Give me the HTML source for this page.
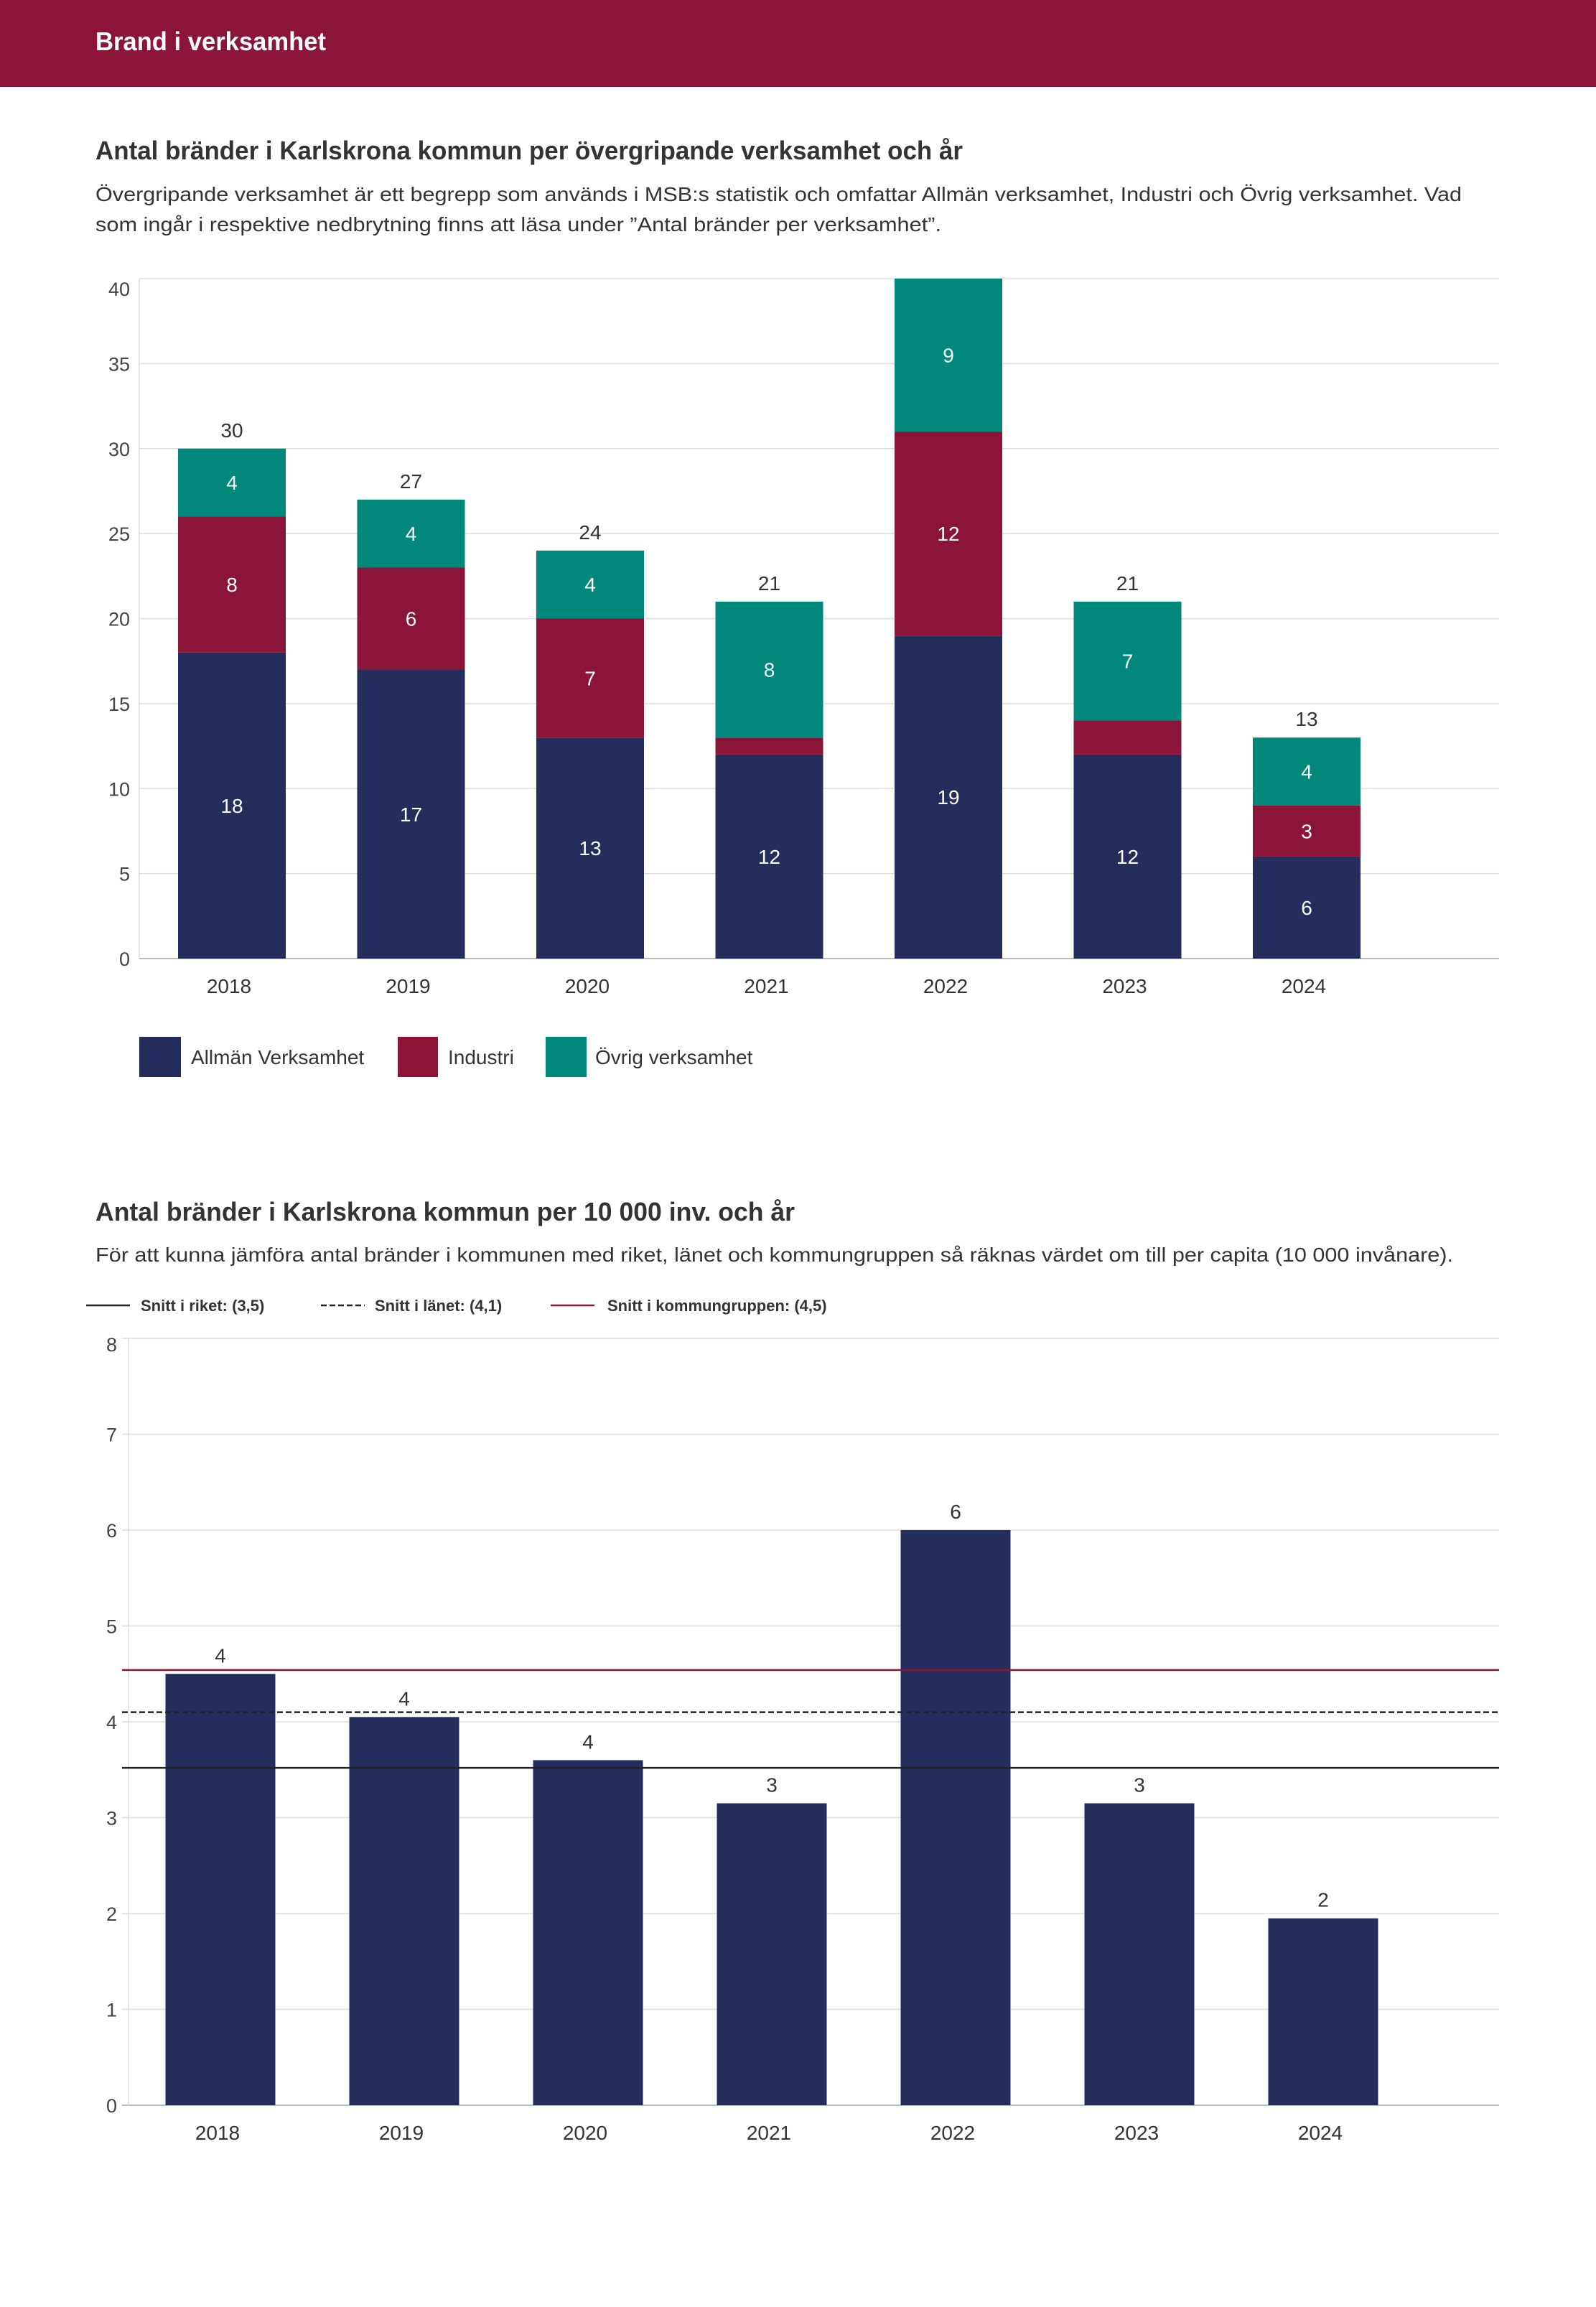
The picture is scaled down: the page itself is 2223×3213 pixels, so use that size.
<!DOCTYPE html>
<html><head><meta charset="utf-8"><style>
html,body{margin:0;padding:0;background:#fff}
svg{display:block}
text{font-family:"Liberation Sans",sans-serif}
</style></head><body>
<svg id="page" width="2223" height="3213" viewBox="0 0 2223 3213" xmlns="http://www.w3.org/2000/svg">
<rect x="0" y="0" width="2223" height="121" fill="#8b1538"/>
<text x="133" y="70" fill="#fff" font-size="36" font-weight="bold" textLength="321" lengthAdjust="spacingAndGlyphs">Brand i verksamhet</text>

<text x="133" y="222" fill="#333" font-size="36" font-weight="bold" textLength="1208" lengthAdjust="spacingAndGlyphs">Antal bränder i Karlskrona kommun per övergripande verksamhet och år</text>
<text x="133" y="280" fill="#333" font-size="28" textLength="1903" lengthAdjust="spacingAndGlyphs">Övergripande verksamhet är ett begrepp som används i MSB:s statistik och omfattar Allmän verksamhet, Industri och Övrig verksamhet. Vad</text>
<text x="133" y="322" fill="#333" font-size="28" textLength="1178" lengthAdjust="spacingAndGlyphs">som ingår i respektive nedbrytning finns att läsa under ”Antal bränder per verksamhet”.</text>
<g id="chart1"></g>

<g>
<rect x="194" y="1444" width="58" height="56" fill="#252d5c"/>
<text x="266" y="1482" font-size="28" fill="#333">Allmän Verksamhet</text>
<rect x="554" y="1444" width="56" height="56" fill="#8b1538"/>
<text x="624" y="1482" font-size="28" fill="#333">Industri</text>
<rect x="760" y="1444" width="57" height="56" fill="#00897b"/>
<text x="829" y="1482" font-size="28" fill="#333">Övrig verksamhet</text>
</g>

<text x="133" y="1700" fill="#333" font-size="36" font-weight="bold" textLength="974" lengthAdjust="spacingAndGlyphs">Antal bränder i Karlskrona kommun per 10 000 inv. och år</text>
<text x="133" y="1757" fill="#333" font-size="28" textLength="1891" lengthAdjust="spacingAndGlyphs">För att kunna jämföra antal bränder i kommunen med riket, länet och kommungruppen så räknas värdet om till per capita (10 000 invånare).</text>
<g>
<line x1="120" y1="1818" x2="181" y2="1818" stroke="#222" stroke-width="2.5"/>
<text x="196" y="1826" font-size="22" font-weight="bold" fill="#333">Snitt i riket: (3,5)</text>
<line x1="447" y1="1818" x2="508" y2="1818" stroke="#222" stroke-width="2.5" stroke-dasharray="8,4"/>
<text x="522" y="1826" font-size="22" font-weight="bold" fill="#333">Snitt i länet: (4,1)</text>
<line x1="767" y1="1818" x2="828" y2="1818" stroke="#8b1538" stroke-width="2.5"/>
<text x="846" y="1826" font-size="22" font-weight="bold" fill="#333">Snitt i kommungruppen: (4,5)</text>
</g>
<g id="chart2"></g>
</svg>
<script>
const years = ["2018","2019","2020","2021","2022","2023","2024"];
const allman = [18,17,13,12,19,12,6];
const industri = [8,6,7,1,12,2,3];
const ovrig = [4,4,4,8,9,7,4];
const yTicks1 = [0,5,10,15,20,25,30,35,40];

const perCapita = [4.5,4.05,3.6,3.15,6,3.15,1.95];
const perCapitaLabels = ["4","4","4","3","6","3","2"];
const yTicks2 = [0,1,2,3,4,5,6,7,8];
const refRiket = 3.52;
const refLanet = 4.1;
const refKommungrupp = 4.54;

const NS = "http://www.w3.org/2000/svg";
function mk(parent, tag, attrs, txt){
  const e = document.createElementNS(NS, tag);
  for (const k in attrs) e.setAttribute(k, attrs[k]);
  if (txt !== undefined) e.textContent = txt;
  parent.appendChild(e);
  return e;
}

// Chart 1
(function(){
  const g = document.getElementById('chart1');
  const left = 194, right = 2088, y0 = 1335, yTop = 388, vmax = 40;
  const y = v => y0 - (v / vmax) * (y0 - yTop);
  const x = i => 323 + i * 249.5;
  const bw = 150;
  yTicks1.forEach(t => {
    const l = mk(g, 'line', {x1:left, x2:right, y1:y(t), y2:y(t), stroke: t===0 ? '#bbb' : '#ddd', 'stroke-width': t===0 ? 2 : 1.5});
    
    
    const ly = t === vmax ? y(t)+24 : y(t)+10;
    const tx = mk(g, 'text', {x:181, y:ly, 'text-anchor':'end', 'font-size':27, fill:'#444'}, String(t));
    
    
  });
  const ax = mk(g, 'line', {x1:left, x2:left, y1:yTop, y2:y0, stroke:'#ddd', 'stroke-width':1.5});
  
  
  years.forEach((yr, i) => {
    const segs = [[allman[i], '#252d5c', 'bar-allman'], [industri[i], '#8b1538', 'bar-industri'], [ovrig[i], '#00897b', 'bar-ovrig']];
    let base = 0;
    segs.forEach(s => {
      const r = mk(g, 'rect', {x:x(i)-bw/2, y:y(base+s[0]), width:bw, height:y(base)-y(base+s[0]), fill:s[1]});
      
      
      if (s[0] >= 3) {
        const t = mk(g, 'text', {x:x(i), y:(y(base)+y(base+s[0]))/2+10, 'text-anchor':'middle', 'font-size':28, fill:'#fff'}, String(s[0]));
        
        
      }
      base += s[0];
    });
    if (base < vmax) {
      const tot = mk(g, 'text', {x:x(i), y:y(base)-16, 'text-anchor':'middle', 'font-size':28, fill:'#333'}, String(base));
      
      
    }
    const xl = mk(g, 'text', {x:x(i)-4, y:1383, 'text-anchor':'middle', 'font-size':28, fill:'#333'}, yr);
    
    
  });
})();

// Chart 2
(function(){
  const g = document.getElementById('chart2');
  const left = 170, right = 2088, y0 = 2932, yTop = 1864, vmax = 8;
  const y = v => y0 - (v / vmax) * (y0 - yTop);
  const x = i => 307 + i * 256;
  const bw = 153;
  yTicks2.forEach(t => {
    const l = mk(g, 'line', {x1:left, x2:right, y1:y(t), y2:y(t), stroke: t===0 ? '#bbb' : '#ddd', 'stroke-width': t===0 ? 2 : 1.5});
    
    
    const ly = t === vmax ? y(t)+18 : y(t)+10;
    const tx = mk(g, 'text', {x:163, y:ly, 'text-anchor':'end', 'font-size':27, fill:'#444'}, String(t));
    
    
  });
  const ax = mk(g, 'line', {x1:179, x2:179, y1:yTop, y2:y0, stroke:'#ddd', 'stroke-width':1.5});
  
  
  years.forEach((yr, i) => {
    const r = mk(g, 'rect', {x:x(i)-bw/2, y:y(perCapita[i]), width:bw, height:y0-y(perCapita[i]), fill:'#252d5c'});
    
    
    const t = mk(g, 'text', {x:x(i), y:y(perCapita[i])-16, 'text-anchor':'middle', 'font-size':28, fill:'#333'}, perCapitaLabels[i]);
    
    
    const xl = mk(g, 'text', {x:x(i)-4, y:2980, 'text-anchor':'middle', 'font-size':28, fill:'#333'}, yr);
    
    
  });
  const r1 = mk(g, 'line', {x1:left, x2:right, y1:y(refRiket), y2:y(refRiket), stroke:'#222', 'stroke-width':2.5});
  
  
  const r2 = mk(g, 'line', {x1:left, x2:right, y1:y(refLanet), y2:y(refLanet), stroke:'#222', 'stroke-width':2.5, 'stroke-dasharray':'8,4'});
  
  
  const r3 = mk(g, 'line', {x1:left, x2:right, y1:y(refKommungrupp), y2:y(refKommungrupp), stroke:'#8b1538', 'stroke-width':2.5});
  
  
})();
</script>
</body></html>
